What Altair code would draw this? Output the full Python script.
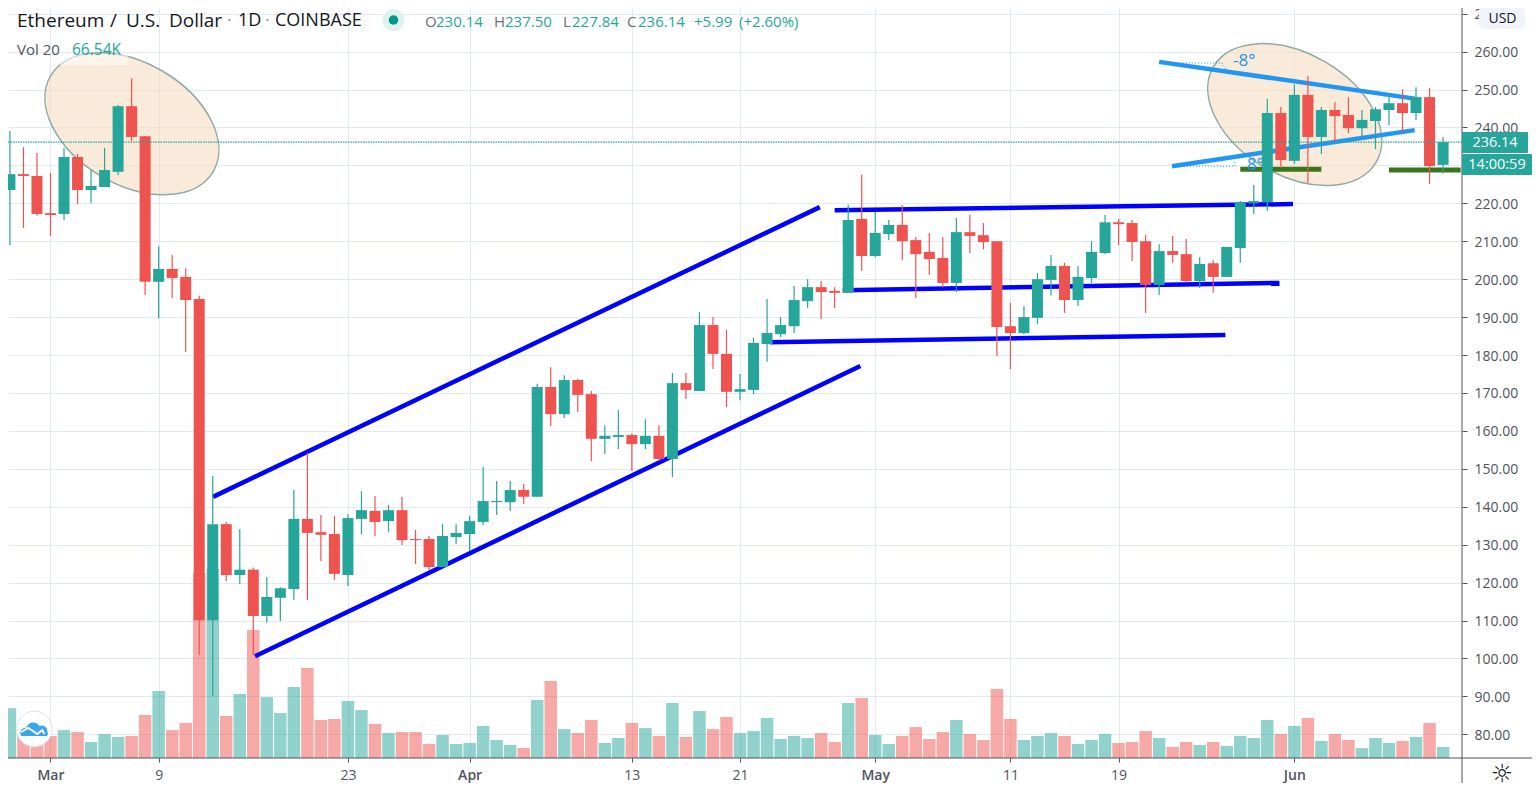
import altair as alt
import pandas as pd

days = list(range(-3, 104))
opens = [223.5,227.7,227.2,217.4,217.2,232.2,223.5,224.3,228.3,245.6,237.7,199.3,202.7,200.6,194.8,110.1,135.4,122.0,123.4,111.2,116.0,118.3,136.8,133.3,132.8,122.0,136.8,138.9,136.2,139.1,131.5,131.5,124.1,132.0,132.8,136.0,141.2,141.2,144.4,142.6,171.6,164.4,173.4,169.7,157.9,158.4,158.9,156.5,158.7,152.6,172.6,170.5,187.9,180.3,170.3,170.8,182.9,185.5,187.6,194.2,197.9,196.9,196.4,215.9,206.1,211.9,214.3,210.3,207.2,205.6,199.0,212.4,211.6,210.0,187.6,185.8,189.8,199.8,203.5,194.5,200.3,206.9,215.0,214.8,210.0,198.5,207.4,206.6,199.5,204.2,200.6,208.2,220.0,220.3,243.8,231.2,248.6,237.5,244.6,243.3,239.8,241.7,244.6,246.4,243.8,248.0,230.14]
closes = [227.7,227.2,217.2,216.9,232.2,223.5,224.6,228.8,245.6,237.5,199.3,202.7,200.3,194.5,110.1,135.4,122.0,123.4,111.2,116.2,118.5,136.8,133.1,132.6,122.3,137.0,139.1,136.0,139.1,131.2,131.2,124.1,132.3,133.1,136.2,141.5,141.5,144.4,142.6,171.6,164.4,173.4,169.5,157.9,158.7,158.9,156.5,158.7,152.6,172.6,170.8,187.9,180.3,170.3,171.0,183.2,185.8,187.9,194.5,197.9,196.6,196.4,215.6,206.1,212.2,214.3,210.0,206.6,205.3,199.0,212.4,211.4,209.8,187.4,185.8,190.0,200.0,203.5,194.5,200.6,207.2,215.0,214.5,209.8,198.5,207.4,206.4,199.5,204.0,200.6,208.5,220.3,220.6,243.8,231.4,248.6,237.5,244.6,243.0,239.8,242.0,244.8,246.4,243.8,248.0,229.8,236.14]
highs = [239.1,234.8,233.3,228.0,234.6,233.0,228.8,234.6,245.9,253.0,237.7,208.7,206.4,202.9,195.6,148.1,136.0,134.1,124.0,121.5,118.8,144.4,154.2,137.8,137.6,138.0,144.1,142.8,140.5,142.6,133.9,132.3,135.4,135.4,137.6,150.5,146.8,146.8,146.0,172.4,176.8,174.7,173.7,170.5,161.5,165.5,159.4,163.1,161.5,175.3,175.3,191.3,190.0,186.6,175.0,184.5,194.8,190.0,198.2,200.0,199.5,197.9,219.6,227.5,217.7,215.6,219.6,211.1,212.2,211.1,216.1,216.9,214.8,210.0,193.7,192.9,201.6,206.4,204.3,203.5,210.0,216.9,215.9,215.6,211.6,209.2,211.4,210.6,205.8,205.0,208.5,220.6,224.8,247.5,245.4,251.4,253.6,245.4,246.7,248.0,244.6,245.4,248.0,250.1,250.6,250.4,237.5]
lows = [209.0,213.5,216.7,211.4,215.6,219.8,220.1,224.3,227.5,236.4,195.8,189.6,195.0,180.8,100.9,90.0,120.4,119.6,100.9,109.4,109.9,115.4,115.4,125.7,120.7,119.1,132.8,132.3,133.4,129.9,124.9,123.3,124.1,130.2,128.3,135.2,137.8,138.9,140.7,142.6,161.3,163.4,165.0,152.0,153.9,155.2,149.4,155.2,152.0,147.8,168.4,170.5,176.3,166.3,168.1,169.7,178.2,184.7,185.8,192.4,189.5,192.4,196.4,202.2,205.8,210.3,205.0,195.0,201.1,197.9,196.6,206.9,207.9,179.7,176.3,185.5,188.2,195.6,191.1,192.9,199.0,206.6,209.0,204.8,191.1,195.8,204.3,199.2,197.7,196.4,200.6,204.3,217.2,218.0,229.3,230.4,225.4,233.0,236.2,238.5,237.7,234.3,240.6,238.8,242.0,225.1,227.84]
volumes = [302,151,127,133,169,157,97,145,127,133,260,405,169,212,1117,1143,254,387,774,369,272,429,544,230,236,345,290,206,151,157,157,85,139,85,91,194,109,79,60,351,466,175,151,230,91,121,212,181,133,333,127,284,175,248,151,163,242,115,133,121,151,97,333,363,139,85,133,187,115,157,230,145,109,417,236,109,133,151,133,85,109,145,91,97,163,121,67,97,79,97,73,133,121,230,145,194,242,103,145,109,60,121,91,103,127,212,66.54]

tick_days = [0, 8, 22, 31, 43, 51, 61, 71, 79, 92]
tick_labels = ["Mar", "9", "23", "Apr", "13", "21", "May", "11", "19", "Jun"]
month_days = [0, 31, 61, 92]
price_ticks = list(range(80, 271, 10))
last_close = 236.14

channel_lines = [("a", 12.02, 142.6, 56.9, 219.0), ("b", 15.13, 100.6, 59.9, 177.1),
                 ("c", 58.0, 218.2, 91.9, 219.8), ("d", 58.6, 197.1, 90.9, 199.0),
                 ("e", 53.2, 183.4, 86.9, 185.3)]
wedge_lines = [("a", 82.0, 257.3, 100.9, 247.6), ("b", 82.95, 229.8, 100.9, 239.3)]
level_lines = [("a", 88.0, 229.0, 94.0, 229.0), ("b", 99.0, 228.8, 104.3, 228.8)]
angle_lines = [("a", 82.0, 257.0, 86.65, 257.0), ("a2", 86.65, 257.0, 86.95, 255.2),
               ("b", 82.95, 229.8, 87.6, 229.8), ("b2", 87.6, 229.8, 87.6, 231.4)]
ellipses = [(6.02, 241.0), (92.03, 243.4)]

GREEN, RED = "#26a69a", "#ef5350"
GRID, AXIS, TXT = "#e1eaf0", "#50535e", "#131722"
FONT = "Open Sans"

df = pd.DataFrame({"d": days, "o": opens, "c": closes, "h": highs, "l": lows, "vol": volumes})
df["lo"] = df[["o", "c"]].min(axis=1)
df["hi"] = df[["o", "c"]].max(axis=1)
df["dir"] = ["up" if c >= o else "down" for o, c in zip(opens, closes)]


def seg_df(rows):
    out = []
    for n, d1, p1, d2, p2 in rows:
        out += [{"n": n, "d": d1, "p": p1}, {"n": n, "d": d2, "p": p2}]
    return pd.DataFrame(out)


x_axis = alt.Axis(
    values=tick_days, title=None, grid=True, gridColor=GRID, gridWidth=1, domain=False,
    tickColor=AXIS, tickSize=4, labelColor=AXIS, labelFontSize=14, labelFont=FONT, labelPadding=6,
    labelExpr="%s[indexof(%s, datum.value)]" % (tick_labels, tick_days),
    labelFontWeight={"expr": "indexof(%s, datum.value) >= 0 ? 600 : 400" % month_days},
    labelOverlap=False,
)
X = alt.X("d:Q", scale=alt.Scale(domain=[-3.143, 104.4], nice=False, zero=False, padding=0), axis=x_axis)
y_axis = alt.Axis(
    orient="right", values=price_ticks, format=".2f", title=None, grid=True, gridColor=GRID, gridWidth=1,
    domain=False, tickColor=AXIS, tickSize=5, labelColor=AXIS, labelFontSize=14, labelFont=FONT,
    labelPadding=7, labelOverlap=False, labelOffset=1,
)
y_scale = alt.Scale(domain=[73.75, 271.5], nice=False, zero=False)
Y = alt.Y("p:Q", scale=y_scale, axis=y_axis)
color = alt.Color("dir:N", scale=alt.Scale(domain=["up", "down"], range=[GREEN, RED]), legend=None)

volume = alt.Chart(df).mark_bar(size=12.5, orient="vertical", opacity=0.5).encode(
    x=X, y=alt.Y("vol:Q", scale=alt.Scale(domain=[0, 4536], nice=False), axis=None), color=color)

ELLIPSE = "M 81.3 47.9 A 94.3 60.8 30.5 1 0 -81.3 -47.9 A 94.3 60.8 30.5 1 0 81.3 47.9 Z"
ell = alt.Chart(pd.DataFrame(ellipses, columns=["d", "p"])).mark_point(
    shape=ELLIPSE, size=4, filled=True, fill="#f6d9b9", fillOpacity=0.55, stroke="#8fa9a5",
    strokeWidth=1.5, strokeOpacity=1, opacity=1).encode(x=X, y=Y)


def lines(rows, col, w, **kw):
    return alt.Chart(seg_df(rows)).mark_line(color=col, strokeWidth=w, **kw).encode(x=X, y=Y, detail="n:N")


def label(text, x, y, col=TXT, size=14, align="left", weight="normal", font=FONT):
    return alt.Chart(pd.DataFrame({"t": [text]})).mark_text(
        text=text, align=align, baseline="middle", color=col, fontSize=size, font=font, fontWeight=weight,
    ).encode(x=alt.value(x - 8), y=alt.value(y - 8))


def box(x1, x2, y1, y2, col, op=1, r=0):
    return alt.Chart(pd.DataFrame({"t": [0]})).mark_rect(color=col, opacity=op, cornerRadius=r).encode(
        x=alt.value(x1 - 8), x2=alt.value(x2 - 8), y=alt.value(y1 - 8), y2=alt.value(y2 - 8))


wicks = alt.Chart(df).mark_rule(strokeWidth=1.2).encode(
    x=X, y=alt.Y("l:Q", scale=y_scale, axis=y_axis), y2="h:Q", color=color)
bodies = alt.Chart(df).mark_bar(size=11, orient="vertical").encode(
    x=X, y=alt.Y("lo:Q", scale=y_scale, axis=y_axis), y2="hi:Q", color=color)
price_line = alt.Chart(pd.DataFrame({"p": [last_close]})).mark_rule(
    color=GREEN, strokeWidth=1.2, strokeDash=[1.5, 1]).encode(y=Y)

axis_v = alt.Chart(pd.DataFrame({"t": [0]})).mark_rule(color=AXIS, strokeWidth=1).encode(
    x=alt.value(1454), y=alt.value(0), y2=alt.value(775))
axis_h = alt.Chart(pd.DataFrame({"t": [0]})).mark_rule(color=AXIS, strokeWidth=1).encode(
    y=alt.value(750), x=alt.value(0), x2=alt.value(1524))


def pt(x, y, shape, **kw):
    return alt.Chart(pd.DataFrame({"t": [0]})).mark_point(shape=shape, opacity=1, **kw).encode(
        x=alt.value(x - 8), y=alt.value(y - 8))


logo = [
    pt(34.3, 729, "circle", size=1256, filled=True, fill="white", stroke="#e0e3eb", strokeWidth=1),
    pt(34.3, 729, "M -13 7 C -16 2 -11 -2 -8 -1 C -6 -8 3 -8 5 -3 C 9 -5 14 -1 13 3 C 15 6 12 8 10 7 Z",
       size=4, filled=True, fill="#37a6ef", strokeWidth=0),
    pt(34.3, 729, "M -13 3 L -6 -1 L 3 5 L 8 1 L 10 5", size=4, filled=False, stroke="white", strokeWidth=2),
]

header = [
    label("Ethereum", 17, 21, size=19),
    label("/", 110, 21, size=19),
    label("U.S.", 126, 21, size=19),
    label("Dollar", 169, 21, size=19),
    label("·", 227, 21, col="#9598a1", size=18),
    label("1D", 238, 21, size=18),
    label("·", 265, 21, col="#9598a1", size=18),
    label("COINBASE", 275, 21, size=18),
    pt(393.5, 20, "circle", size=480, filled=True, fill="#e0f2f0", strokeWidth=0),
    pt(393.5, 20, "circle", size=90, filled=True, fill="#009688", strokeWidth=0),
    label("O", 425, 22, col="#6a6d78", size=15), label("230.14", 436, 22, col=GREEN, size=15),
    label("H", 494, 22, col="#6a6d78", size=15), label("237.50", 505, 22, col=GREEN, size=15),
    label("L", 563, 22, col="#6a6d78", size=15), label("227.84", 572, 22, col=GREEN, size=15),
    label("C", 627, 22, col="#6a6d78", size=15), label("236.14", 638, 22, col=GREEN, size=15),
    label("+5.99", 694, 22, col=GREEN, size=15), label("(+2.60%)", 739, 22, col=GREEN, size=15),
    box(60, 128, 54, 65, "white", op=0.5),
    label("Vol 20", 17, 50, col="#50535e", size=15), label("66.54K", 72, 50, col=GREEN, size=15.5),
]

price_layers = alt.layer(
    ell,
    lines(channel_lines, "#0000ff", 4.5),
    lines(wedge_lines, "#2196f3", 4.5),
    lines(level_lines, "#38761d", 5),
    lines(angle_lines, "#2196f3", 1, strokeDash=[1, 2]),
    label("-8°", 1233, 61, col="#2196f3", size=17),
    label("8°", 1247, 165, col="#2196f3", size=17),
    wicks, bodies, price_line,
    axis_v, axis_h,
    box(1462, 1528, 132, 153, GREEN, r=1),
    label("236.14", 1495, 142.5, col="white", align="center", size=14.5),
    box(1462, 1532, 154, 175, GREEN, r=1),
    label("14:00:59", 1497, 164.5, col="white", align="center", size=14.5),
    box(1479, 1525, 7, 29, "#f0f3fa", r=4),
    label("USD", 1502.5, 18.5, col=TXT, size=14, align="center"),
    label("☼", 1502, 774, col=TXT, size=25, align="center", font="DejaVu Sans"),
    *logo,
    *header,
)

chart = alt.layer(volume, price_layers).resolve_scale(y="independent").properties(
    width=1454, height=750,
    padding={"left": 0, "top": 0, "right": 70, "bottom": 25},
    autosize=alt.AutoSizeParams(type="none"),
    background="white",
).configure_view(strokeWidth=0)

chart.save("out.html", embed_options={"renderer": "svg", "actions": False})
